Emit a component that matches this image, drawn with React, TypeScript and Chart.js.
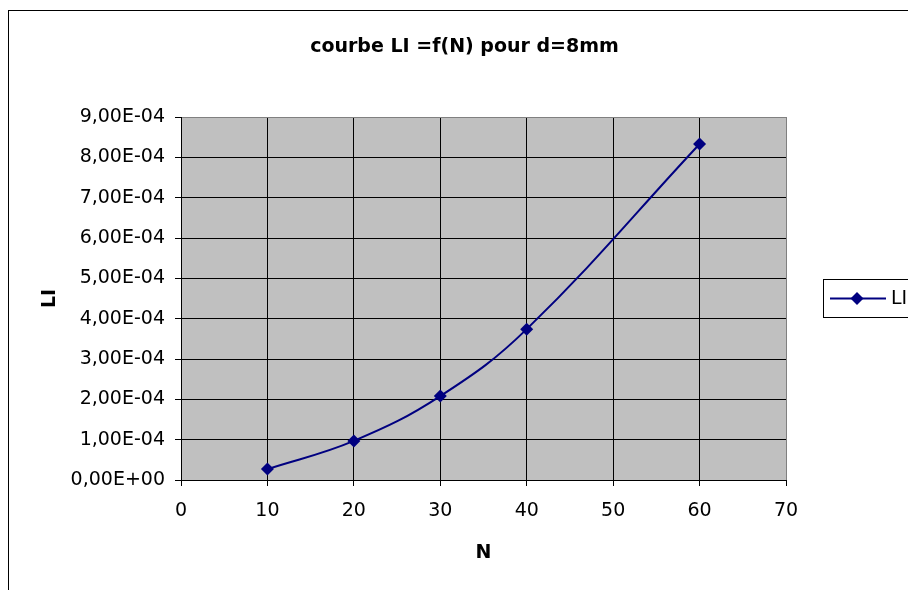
import React, { useEffect, useRef } from 'react';
import { Chart, registerables } from 'chart.js';

Chart.register(...registerables);

const TITLE = 'courbe LI =f(N) pour d=8mm';
const SERIES_LABEL = 'LI';
const X_TITLE = 'N';
const Y_TITLE = 'LI';
const N_VALUES = [10, 20, 30, 40, 60];
const LI_VALUES = [2.7e-5, 9.7e-5, 2.08e-4, 3.74e-4, 8.33e-4];
const X_MIN = 0;
const X_MAX = 70;
const X_STEP = 10;
const Y_MIN = 0;
const Y_MAX = 9e-4;
const Y_STEP = 1e-4;

const FONT = "'DejaVu Sans'";
const LINE_COLOR = '#000080';

function fmtSci(v: number): string {
  if (Math.abs(v) < 1e-12) return '0,00E+00';
  let e = Math.floor(Math.log10(Math.abs(v)));
  let ms = (v / Math.pow(10, e)).toFixed(2);
  if (Math.abs(parseFloat(ms)) >= 10) {
    e += 1;
    ms = (v / Math.pow(10, e)).toFixed(2);
  }
  const es = (e < 0 ? '-' : '+') + String(Math.abs(e)).padStart(2, '0');
  return ms.replace('.', ',') + 'E' + es;
}

const decorPlugin = {
  id: 'excelDecor',
  beforeDraw(chart: any) {
    const { ctx, chartArea } = chart;
    const { left, top, right, bottom } = chartArea;
    ctx.save();
    ctx.fillStyle = '#ffffff';
    ctx.fillRect(0, 0, chart.width, chart.height);
    ctx.fillStyle = '#C0C0C0';
    ctx.fillRect(left, top, right - left, bottom - top);
    ctx.restore();
  },
  afterDraw(chart: any) {
    const { ctx } = chart;
    ctx.save();
    // outer chart border
    ctx.strokeStyle = '#000000';
    ctx.lineWidth = 1;
    ctx.strokeRect(8.5, 10.5, 1200, 1200);
    // legend
    const ds = chart.data.datasets[0];
    const bx = 823.5, by = 279.5, bh = 38;
    ctx.fillStyle = '#ffffff';
    ctx.fillRect(bx, by, 200, bh);
    ctx.strokeStyle = '#000000';
    ctx.strokeRect(bx, by, 200, bh);
    const cy = by + bh / 2;
    ctx.strokeStyle = ds.borderColor;
    ctx.lineWidth = 2;
    ctx.beginPath();
    ctx.moveTo(830, cy);
    ctx.lineTo(886, cy);
    ctx.stroke();
    ctx.fillStyle = ds.pointBackgroundColor;
    const r = 6.5;
    ctx.beginPath();
    ctx.moveTo(857, cy - r);
    ctx.lineTo(857 + r, cy);
    ctx.lineTo(857, cy + r);
    ctx.lineTo(857 - r, cy);
    ctx.closePath();
    ctx.fill();
    ctx.fillStyle = '#000000';
    ctx.font = `19px ${FONT}`;
    ctx.textAlign = 'left';
    ctx.textBaseline = 'middle';
    ctx.fillText(ds.label, 891, cy + 1);
    ctx.restore();
  },
};

export default function App() {
  const ref = useRef<HTMLCanvasElement>(null);

  useEffect(() => {
    const points = N_VALUES.map((n, i) => ({ x: n, y: LI_VALUES[i] }));
    const chart = new Chart(ref.current as HTMLCanvasElement, {
      type: 'line',
      data: {
        datasets: [
          {
            label: SERIES_LABEL,
            data: points,
            borderColor: LINE_COLOR,
            backgroundColor: LINE_COLOR,
            pointBackgroundColor: LINE_COLOR,
            pointBorderColor: LINE_COLOR,
            borderWidth: 2,
            pointStyle: 'rectRot',
            pointRadius: 6.5,
            pointBorderWidth: 0,
            tension: 0.4,
            fill: false,
          },
        ],
      },
      options: {
        responsive: false,
        animation: false,
        layout: { padding: { left: 21, right: 0, top: 10, bottom: 20 } },
        plugins: {
          legend: { display: false },
          tooltip: { enabled: false },
          title: {
            display: true,
            text: TITLE,
            color: '#000000',
            font: { family: FONT, size: 19, weight: 'bold' },
            padding: { top: 25.6, bottom: 58.6 },
          },
        },
        scales: {
          x: {
            type: 'linear',
            min: X_MIN,
            max: X_MAX,
            afterFit: (scale: any) => {
              scale.height = 90;
            },
            ticks: {
              stepSize: X_STEP,
              color: '#000000',
              padding: 14,
              font: { family: FONT, size: 19 },
              maxRotation: 0,
            },
            grid: {
              color: (c: any) => (c.tick && Math.abs(c.tick.value - X_MAX) < 1e-9 ? '#808080' : '#000000'),
              lineWidth: 1,
              drawTicks: true,
              tickLength: 6,
              tickColor: '#000000',
            },
            border: { display: true, color: '#000000', width: 1 },
            title: {
              display: true,
              text: X_TITLE,
              color: '#000000',
              font: { family: FONT, size: 19, weight: 'bold' },
              padding: { top: 0, bottom: 5.6 },
            },
          },
          y: {
            type: 'linear',
            min: Y_MIN,
            max: Y_MAX,
            afterFit: (scale: any) => {
              scale.width = 160;
            },
            ticks: {
              stepSize: Y_STEP,
              color: '#000000',
              padding: 10,
              font: { family: FONT, size: 19 },
              callback: (v: any) => fmtSci(Number(v)),
            },
            grid: {
              color: (c: any) => (c.tick && Math.abs(c.tick.value - Y_MAX) < 1e-12 ? '#808080' : '#000000'),
              lineWidth: 1,
              drawTicks: true,
              tickLength: 6,
              tickColor: '#000000',
            },
            border: { display: true, color: '#000000', width: 1 },
            title: {
              display: true,
              text: Y_TITLE,
              color: '#000000',
              font: { family: FONT, size: 19, weight: 'bold' },
              padding: { top: 17.6, bottom: 0 },
            },
          },
          spacer: {
            type: 'linear',
            position: 'right',
            display: true,
            afterFit: (scale: any) => {
              scale.width = 122;
            },
            ticks: { display: false },
            grid: { display: false, drawTicks: false },
            border: { display: false },
            title: { display: false },
          },
        },
      },
      plugins: [decorPlugin],
    });
    return () => chart.destroy();
  }, []);

  return (
    <div
      style={{
        position: 'fixed',
        left: 0,
        top: 0,
        width: 908,
        height: 590,
        overflow: 'hidden',
        background: '#ffffff',
      }}
    >
      <canvas ref={ref} width={908} height={590} style={{ display: 'block' }} />
    </div>
  );
}
